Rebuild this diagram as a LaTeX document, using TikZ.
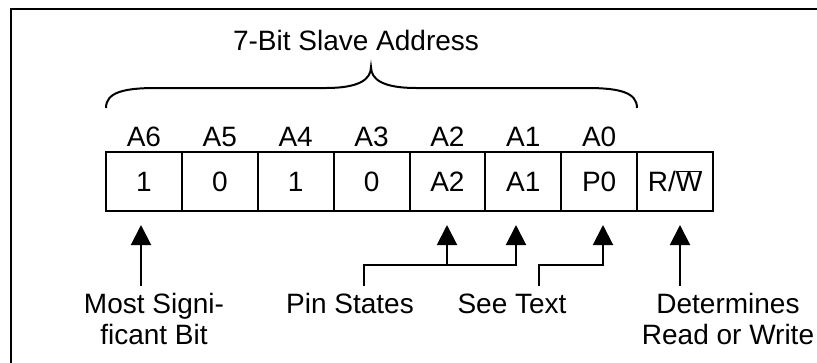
\documentclass[tikz,border=0pt]{standalone}
\usepackage{fontspec}
\setmainfont{Liberation Sans}
\usetikzlibrary{arrows.meta}
\begin{document}
\begin{tikzpicture}[x=1pt,y=-1pt,
  lbl/.style={font=\fontsize{28}{31}\selectfont, inner sep=0pt, anchor=base, align=center},
  cell/.style={draw, line width=2pt, minimum width=75.875pt, minimum height=59pt,
    inner sep=0pt, outer sep=0pt, text height=20pt, text depth=0pt,
    font=\fontsize{28}{31}\selectfont},
  arr/.style={line width=2pt, -{Triangle[width=20pt,length=20pt]}},
  ln/.style={line width=2pt}]
\useasboundingbox (0,0) rectangle (817,362);
\clip (0,0) rectangle (817,362);
\fill[white] (0,0) rectangle (817,362);
% frame (cut at right and bottom)
\draw[line width=2.6pt] (11,9) rectangle (840,390);
% title and brace
\node[lbl] (title) at (356,50) {7-Bit Slave Address};
\draw[ln] (106,108) .. controls (106,93) and (122,88) .. (156,88) -- (326,88)
  .. controls (358,88) and (371,80) .. (371,67)
  .. controls (371,80) and (384,88) .. (416,88) -- (587,88)
  .. controls (621,88) and (637,93) .. (637,108);
% bit labels and cells
\foreach \i/\top/\val in {0/A6/1, 1/A5/0, 2/A4/1, 3/A3/0, 4/A2/A2, 5/A1/A1, 6/A0/P0}{
  \node[lbl] (a\i) at ({106+75.875*(\i+0.5)},146) {\top};
  \node[cell] (c\i) at ({106+75.875*(\i+0.5)},181.5) {\val};
}
\node[cell] (c7) at ({106+75.875*7.5},181.5) {R/$\overline{\hbox{W}}$};
% arrow coordinates
\coordinate (m0) at (141,286);  \coordinate (m1) at (141,225);
\coordinate (ps) at (364,286);  \coordinate (pj) at (447,265);
\coordinate (pk) at (516,265);  \coordinate (t2) at (447,225);
\coordinate (t1) at (516,225);
\coordinate (st) at (539,286);  \coordinate (sk) at (603,265);
\coordinate (t0) at (603,225);
\coordinate (r0) at (680,286);  \coordinate (r1) at (680,225);
\draw[arr] (m0) -- (m1);
\draw[arr] (ps) |- (pk) -- (t1);
\draw[arr] (pj) -- (t2);
\draw[arr] (st) |- (sk) -- (t0);
\draw[arr] (r0) -- (r1);
% bottom labels
\node[lbl] (msb) at (154,344) {Most Signi-\\ficant Bit};
\node[lbl] (pin) at (350,313) {Pin States};
\node[lbl] (see) at (512,313) {See Text};
\node[lbl] (rw) at (728,344) {Determines\\Read or Write};
\end{tikzpicture}
\end{document}
